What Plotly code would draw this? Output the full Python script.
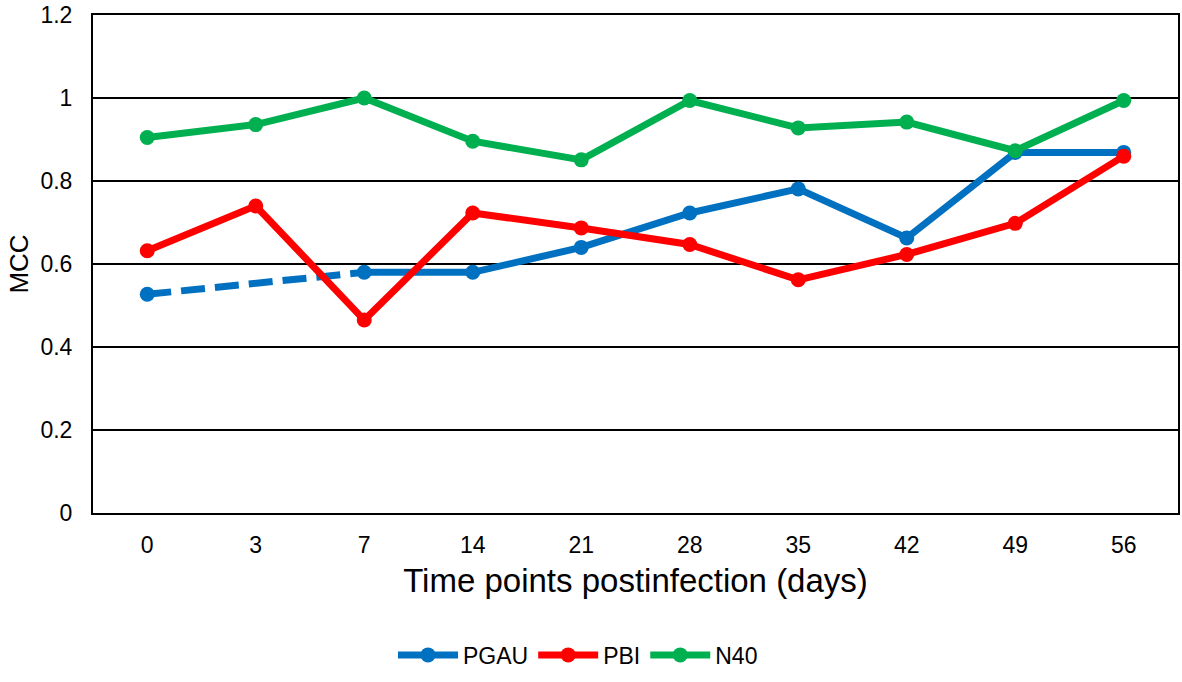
import plotly.graph_objects as go

categories = ["0", "3", "7", "14", "21", "28", "35", "42", "49", "56"]
pgau = [0.527, None, 0.58, 0.58, 0.64, 0.723, 0.781, 0.663, 0.869, 0.869]
pbi = [0.632, 0.74, 0.465, 0.723, 0.687, 0.647, 0.562, 0.623, 0.698, 0.86]
n40 = [0.905, 0.936, 1.0, 0.896, 0.851, 0.994, 0.928, 0.942, 0.873, 0.994]
y_ticks = [0, 0.2, 0.4, 0.6, 0.8, 1, 1.2]
y_labels = ["0", "0.2", "0.4", "0.6", "0.8", "1", "1.2"]

BLUE = "#0070C0"
RED = "#FF0000"
GREEN = "#00B050"

fig = go.Figure()

# dashed interpolated PGAU segment (missing day 3)
dash_y = [pgau[0], None, pgau[2]] + [None] * (len(categories) - 3)
fig.add_trace(go.Scatter(
    x=categories, y=dash_y, mode="lines", connectgaps=True,
    line=dict(color=BLUE, width=7, dash="24px,10px"),
    showlegend=False, hoverinfo="skip"))

fig.add_trace(go.Scatter(
    x=categories, y=pgau, mode="lines+markers", name="PGAU",
    line=dict(color=BLUE, width=7), marker=dict(size=15, color=BLUE),
    connectgaps=False))
fig.add_trace(go.Scatter(
    x=categories, y=pbi, mode="lines+markers", name="PBI",
    line=dict(color=RED, width=7), marker=dict(size=15, color=RED)))
fig.add_trace(go.Scatter(
    x=categories, y=n40, mode="lines+markers", name="N40",
    line=dict(color=GREEN, width=7), marker=dict(size=15, color=GREEN)))

fig.update_layout(
    width=1182, height=682,
    margin=dict(l=93, r=2, t=13, b=169),
    paper_bgcolor="white", plot_bgcolor="white",
    font=dict(family="Liberation Sans, Arial, sans-serif", color="black", size=23),
    showlegend=True,
    legend=dict(orientation="h", x=0.447, xanchor="center", y=-0.285, yanchor="middle",
                font=dict(size=23), itemwidth=60, tracegroupgap=0,
                traceorder="normal"),
)
fig.update_xaxes(
    type="category", categoryorder="array", categoryarray=categories,
    range=[-0.5, len(categories) - 0.5],
    showline=True, linecolor="black", linewidth=2, mirror=True,
    showgrid=False, ticks="", ticklabelstandoff=10,
    tickfont=dict(size=23),
    title=dict(text="Time points postinfection (days)", font=dict(size=33), standoff=12),
)
fig.update_yaxes(
    range=[0, 1.2001], tickvals=y_ticks, ticktext=y_labels,
    showline=True, linecolor="black", linewidth=2, mirror=True,
    showgrid=True, gridcolor="black", gridwidth=1.5,
    zeroline=False, ticks="", ticklabelstandoff=14,
    tickfont=dict(size=23),
    title=dict(text="MCC", font=dict(size=26), standoff=4),
)

fig.write_html("out.html", config={"displayModeBar": False},
               post_script="document.body.style.margin='0';")
